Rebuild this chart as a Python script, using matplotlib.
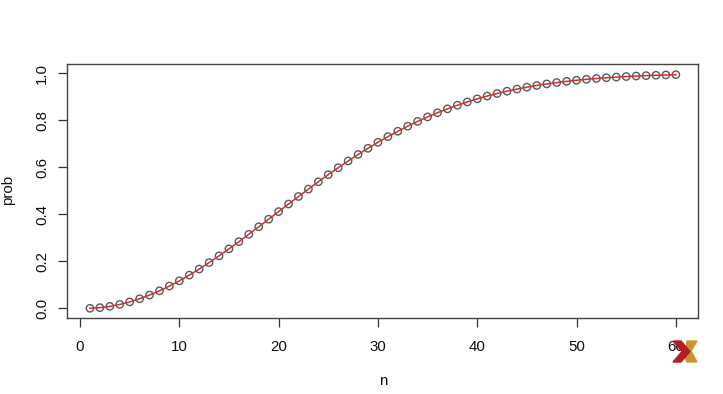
import matplotlib
matplotlib.use("Agg")
import matplotlib.pyplot as plt
from matplotlib.patches import Polygon

n = list(range(1, 61))
prob = [0.0, 0.00274, 0.00820, 0.01636, 0.02714, 0.04046, 0.05624, 0.07434, 0.09462, 0.11695,
        0.14114, 0.16702, 0.19441, 0.22310, 0.25290, 0.28360, 0.31501, 0.34691, 0.37912, 0.41144,
        0.44369, 0.47570, 0.50730, 0.53834, 0.56870, 0.59824, 0.62686, 0.65446, 0.68097, 0.70632,
        0.73045, 0.75335, 0.77497, 0.79532, 0.81438, 0.83218, 0.84873, 0.86407, 0.87822, 0.89123,
        0.90315, 0.91403, 0.92392, 0.93289, 0.94098, 0.94825, 0.95477, 0.96060, 0.96578, 0.97037,
        0.97443, 0.97800, 0.98114, 0.98388, 0.98626, 0.98833, 0.99012, 0.99166, 0.99299, 0.99412]
xticks = [0, 10, 20, 30, 40, 50, 60]
yticks = [0.0, 0.2, 0.4, 0.6, 0.8, 1.0]
xlabel = "n"
ylabel = "prob"

plt.rcParams['font.family'] = ['Liberation Sans', 'DejaVu Sans']
W, H = 723, 394
fig = plt.figure(figsize=(W / 100, H / 100), dpi=100)
ax = fig.add_axes([66.7 / W, 1 - 318.3 / H, (697.7 - 66.7) / W, (318.3 - 64) / H])

ax.scatter(n, prob, s=28, facecolors='none', edgecolors='#5a5a5a', linewidths=1.0, zorder=2)
ax.plot(n, prob, color='#d03030', lw=1.1, zorder=3)

ax.set_xlim(-1.34, 62.2)
ax.set_ylim(-0.0426, 1.0396)
ax.set_xticks(xticks)
ax.set_xticklabels([str(t) for t in xticks])
ax.set_yticks(yticks)
ax.set_yticklabels([f"{t:.1f}" for t in yticks], rotation=90, va='center')
ax.tick_params(axis='both', direction='out', length=6.5, width=0.9, color='#333333',
               labelsize=10.8, labelcolor='#111111')
ax.tick_params(axis='x', pad=9)
ax.tick_params(axis='y', pad=6)
for s in ax.spines.values():
    s.set_color('#444444')
    s.set_linewidth(1.0)

fig.text(383 / W, 1 - 381 / H, xlabel, ha='center', va='center', fontsize=10.8, color='#111111')
fig.text(8 / W, 1 - 190 / H, ylabel, ha='center', va='center', rotation=90, fontsize=10.8, color='#111111')

# logo watermark
def px(pts):
    return [(x / W, 1 - y / H) for x, y in pts]
fig.patches.append(Polygon(px([(687, 341), (697, 341), (691, 351), (697, 362), (687, 362), (684, 356), (686, 351)]),
                           closed=True, transform=fig.transFigure, color='#c8962a', zorder=10))
fig.patches.append(Polygon(px([(673, 341), (681, 341), (690, 351.5), (681, 362), (673, 362), (682, 351.5)]),
                           closed=True, transform=fig.transFigure, color='#b51d24', zorder=11))

fig.savefig("out.png", dpi=100)
